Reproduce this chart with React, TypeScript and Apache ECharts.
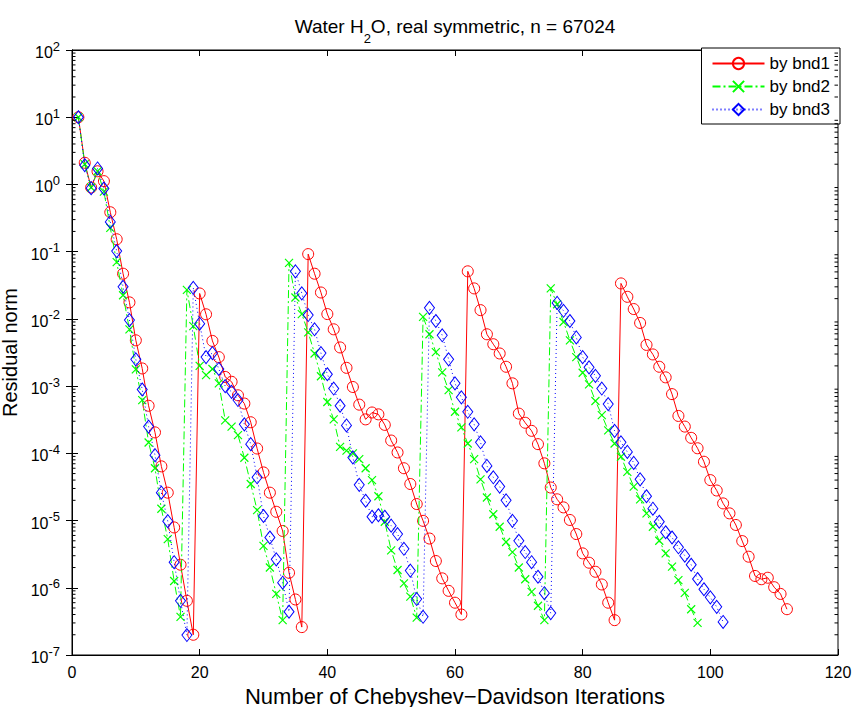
import React, { useEffect, useRef } from "react";
import * as echarts from "echarts";

// Residual norm per Chebyshev-Davidson iteration (x = 1, 2, 3, ...)
const bnd1: number[] = [
  10, 2.1, 0.9, 1.57, 1.12, 0.386, 0.153, 0.047, 0.0176, 0.0048,
  0.00183, 5.1e-4, 2.05e-4, 6.4e-5, 2.6e-5, 7.9e-6, 2.2e-6, 6.4e-7, 2.0e-7, 0.0239,
  0.0117, 4.7e-3, 2.7e-3, 1.37e-3, 1.16e-3, 7.3e-4, 5.5e-4, 2.9e-4, 1.18e-4, 5.2e-5,
  2.6e-5, 1.35e-5, 7.0e-6, 1.67e-6, 6.7e-7, 2.6e-7, 0.092, 0.047, 0.0247, 0.0118,
  7.0e-3, 3.76e-3, 1.87e-3, 9.7e-4, 5.3e-4, 3.2e-4, 4.05e-4, 3.8e-4, 2.65e-4, 1.55e-4,
  1.03e-4, 6.0e-5, 3.5e-5, 1.76e-5, 9.9e-6, 5.4e-6, 2.5e-6, 1.38e-6, 9.0e-7, 6.0e-7,
  4.0e-7, 0.051, 0.0284, 0.0135, 5.9e-3, 4.2e-3, 3.06e-3, 1.94e-3, 1.1e-3, 3.9e-4,
  2.85e-4, 2.16e-4, 1.37e-4, 7.1e-5, 3.1e-5, 2.07e-5, 1.57e-5, 1.02e-5, 6.3e-6, 3.25e-6,
  2.36e-6, 1.73e-6, 1.12e-6, 6.0e-7, 3.3e-7, 0.0337, 0.0213, 0.014, 8.7e-3, 4.1e-3,
  2.96e-3, 1.94e-3, 1.35e-3, 7.6e-4, 3.6e-4, 2.5e-4, 1.7e-4, 1.19e-4, 7.5e-5, 4.0e-5,
  2.8e-5, 1.8e-5, 1.28e-5, 8.6e-6, 4.95e-6, 2.9e-6, 1.5e-6, 1.34e-6, 1.41e-6, 1.02e-6,
  8.1e-7, 4.8e-7,
];

const bnd2: number[] = [
  10, 2.0, 0.9, 1.57, 0.78, 0.226, 0.07, 0.0225, 0.007, 1.77e-3,
  6.2e-4, 1.45e-4, 6.0e-5, 1.5e-5, 5.3e-6, 1.26e-6, 3.7e-7, 0.027, 7.8e-3, 2.0e-3,
  1.46e-3, 1.8e-3, 1.1e-3, 3.1e-4, 2.5e-4, 1.87e-4, 8.6e-5, 3.5e-5, 1.43e-5, 4.2e-6,
  2.0e-6, 8.1e-7, 3.3e-7, 0.068, 0.0208, 0.0118, 6.3e-3, 3.06e-3, 1.4e-3, 5.8e-4,
  3.2e-4, 1.25e-4, 1.1e-4, 1.0e-4, 8.2e-5, 6.0e-5, 4.0e-5, 2.3e-5, 9.6e-6, 3.6e-6,
  1.84e-6, 1.16e-6, 7.4e-7, 3.6e-7, 0.0107, 5.9e-3, 3.2e-3, 1.6e-3, 8.7e-4, 4.15e-4,
  2.43e-4, 1.4e-4, 8.2e-5, 4.1e-5, 2.2e-5, 1.24e-5, 8.1e-6, 4.8e-6, 3.4e-6, 2.0e-6,
  1.34e-6, 8.7e-7, 5.4e-7, 3.3e-7, 0.0284, 0.0165, 9.0e-3, 4.8e-3, 2.7e-3, 1.58e-3,
  1.06e-3, 6.0e-4, 3.7e-4, 2.2e-4, 1.4e-4, 8.9e-5, 5.3e-5, 3.2e-5, 2.07e-5, 1.28e-5,
  8.1e-6, 5.0e-6, 3.25e-6, 2.06e-6, 1.3e-6, 8.4e-7, 4.8e-7, 3.0e-7,
];

const bnd3: number[] = [
  10, 1.93, 0.88, 1.73, 0.87, 0.277, 0.102, 0.03, 0.0096, 0.0025,
  8.9e-4, 2.5e-4, 9.4e-5, 2.6e-5, 9.8e-6, 2.4e-6, 6.4e-7, 1.98e-7, 0.029, 8.5e-3,
  2.7e-3, 3.1e-3, 1.8e-3, 1.0e-3, 8.2e-4, 6.2e-4, 2.7e-4, 1.37e-4, 4.4e-5, 1.17e-5,
  5.6e-6, 2.65e-6, 1.19e-6, 4.4e-7, 0.051, 0.024, 0.0114, 7.0e-3, 3.1e-3, 1.5e-3,
  9.2e-4, 5.1e-4, 2.6e-4, 8.7e-5, 3.4e-5, 1.97e-5, 1.14e-5, 1.2e-5, 1.14e-5, 8.4e-6,
  6.3e-6, 3.8e-6, 1.8e-6, 6.8e-7, 3.7e-7, 0.0146, 9.3e-3, 5.7e-3, 2.5e-3, 1.1e-3,
  6.8e-4, 4.15e-4, 2.7e-4, 1.46e-4, 6.5e-5, 4.4e-5, 3.2e-5, 2.0e-5, 9.9e-6, 5.0e-6,
  3.4e-6, 2.4e-6, 1.46e-6, 8.3e-7, 4.2e-7, 0.0173, 0.0132, 9.3e-3, 5.3e-3, 2.7e-3,
  1.9e-3, 1.42e-3, 9.2e-4, 5.4e-4, 2.16e-4, 1.46e-4, 1.05e-4, 7.2e-5, 4.1e-5, 2.3e-5,
  1.5e-5, 9.6e-6, 6.7e-6, 5.6e-6, 4.0e-6, 3.0e-6, 2.2e-6, 1.35e-6, 9.5e-7, 7.2e-7,
  5.2e-7, 3.1e-7,
];

const seriesNames = ["by bnd1", "by bnd2", "by bnd3"];
const xTicks = { min: 0, max: 120, step: 20 };
const yRange = { min: 1e-7, max: 1e2 };
const minorMultipliers = [2, 3, 4, 5, 6, 7, 8, 9];
const decadeExponents = [-7, -6, -5, -4, -3, -2, -1, 0, 1];

const xName = "Number of Chebyshev\u2212Davidson Iterations";
const yName = "Residual norm";

const FONT = "'Liberation Sans', Arial, Helvetica, sans-serif";

const toPairs = (vals: number[]) => vals.map((v, i) => [i + 1, v]);

export default function App() {
  const ref = useRef<HTMLDivElement>(null);
  useEffect(() => {
    document.body.style.margin = "0";
    const chart = echarts.init(ref.current!, null, { renderer: "svg" });

    const minorTicks: number[][] = [];
    decadeExponents.forEach((e) =>
      minorMultipliers.forEach((m) => minorTicks.push([xTicks.min, m * Math.pow(10, e)]))
    );

    const tickCommon = {
      axisLine: { show: true, lineStyle: { color: "#000", width: 1 } },
      axisTick: { show: true, inside: true, length: 6, lineStyle: { color: "#000", width: 1 } },
      splitLine: { show: false },
    };

    const option: any = {
      animation: false,
      backgroundColor: "#fff",
      textStyle: { fontFamily: FONT, color: "#000" },
      grid: {
        left: 72,
        right: 17,
        top: 50,
        bottom: 52,
        containLabel: false,
        outerBoundsMode: "none",
        show: true,
        borderColor: "#000",
        borderWidth: 1,
        backgroundColor: "transparent",
      },
      graphic: [
        {
          type: "text",
          silent: true,
          style: {
            text: "{t|Water H}{sub|2}{t|O, real symmetric, n = 67024}",
            x: 455,
            y: 31,
            align: "center",
            verticalAlign: "middle",
            fill: "#000",
            rich: {
              t: { fontSize: 19, fontFamily: FONT, lineHeight: 28, verticalAlign: "top", fill: "#000" },
              sub: { fontSize: 13, fontFamily: FONT, lineHeight: 28, verticalAlign: "bottom", fill: "#000" },
            },
          },
        },
      ],
      legend: {
        data: seriesNames,
        orient: "vertical",
        right: 15,
        top: 48,
        selectedMode: false,
        backgroundColor: "#fff",
        borderColor: "#000",
        borderWidth: 1,
        borderRadius: 0,
        padding: [7, 10, 6, 10],
        itemWidth: 52,
        itemHeight: 14,
        itemGap: 6,
        textStyle: { fontSize: 17, color: "#000", fontFamily: FONT },
      },
      xAxis: [
        {
          type: "value",
          min: xTicks.min,
          max: xTicks.max,
          interval: xTicks.step,
          position: "bottom",
          ...tickCommon,
          axisLabel: { fontSize: 16, color: "#000", margin: 9, fontFamily: FONT },
          name: xName,
          nameLocation: "middle",
          nameGap: 30,
          nameTextStyle: { fontSize: 22, color: "#000", fontFamily: FONT },
        },
        {
          type: "value",
          min: xTicks.min,
          max: xTicks.max,
          interval: xTicks.step,
          position: "top",
          ...tickCommon,
          axisLabel: { show: false },
        },
      ],
      yAxis: [
        {
          type: "log",
          logBase: 10,
          min: yRange.min,
          max: yRange.max,
          position: "left",
          ...tickCommon,
          axisLabel: {
            margin: 12,
            formatter: (v: number) => `{b|10}{s|${Math.round(Math.log10(v))}}`,
            rich: {
              b: { fontSize: 16, fontFamily: FONT, color: "#000", lineHeight: 21, verticalAlign: "bottom" },
              s: { fontSize: 13, fontFamily: FONT, color: "#000", lineHeight: 21, verticalAlign: "top" },
            },
          },
          name: yName,
          nameLocation: "middle",
          nameGap: 40,
          nameTextStyle: { fontSize: 20, color: "#000", fontFamily: FONT },
        },
        {
          type: "log",
          logBase: 10,
          min: yRange.min,
          max: yRange.max,
          position: "right",
          ...tickCommon,
          axisLabel: { show: false },
        },
      ],
      series: [
        {
          type: "custom",
          silent: true,
          xAxisIndex: 0,
          yAxisIndex: 0,
          z: 10,
          data: minorTicks,
          encode: { x: 0, y: 1 },
          renderItem: (params: any, api: any) => {
            const v = api.value(1);
            const p = api.coord([xTicks.min, v]);
            const q = api.coord([xTicks.max, v]);
            return {
              type: "group",
              children: [
                { type: "line", shape: { x1: p[0], y1: p[1], x2: p[0] + 3.5, y2: p[1] }, style: { stroke: "#000", lineWidth: 1 } },
                { type: "line", shape: { x1: q[0] - 3.5, y1: q[1], x2: q[0], y2: q[1] }, style: { stroke: "#000", lineWidth: 1 } },
              ],
            };
          },
        },
        {
          name: seriesNames[0],
          type: "line",
          data: toPairs(bnd1),
          symbol: "circle",
          symbolSize: 11,
          lineStyle: { color: "#ff0000", width: 1, type: "solid" },
          itemStyle: { color: "rgba(0,0,0,0)", borderColor: "#ff0000", borderWidth: 1 },
          z: 2,
        },
        {
          name: seriesNames[1],
          type: "line",
          data: toPairs(bnd2),
          symbol: "path://M0,0L10,10M0,10L10,0",
          symbolSize: 8,
          lineStyle: { color: "#00ff00", width: 1, type: [8, 3, 2, 3] },
          itemStyle: { color: "rgba(0,0,0,0)", borderColor: "#00ff00", borderWidth: 1.2 },
          z: 3,
        },
        {
          name: seriesNames[2],
          type: "line",
          data: toPairs(bnd3),
          symbol: "diamond",
          symbolSize: [10, 13],
          lineStyle: { color: "#0000ff", width: 1, type: [1, 3] },
          itemStyle: { color: "rgba(0,0,0,0)", borderColor: "#0000ff", borderWidth: 1 },
          z: 4,
        },
      ],
    };

    chart.setOption(option);
    return () => chart.dispose();
  }, []);

  return (
    <div
      ref={ref}
      style={{ position: "fixed", left: 0, top: 0, width: 855, height: 707 }}
    />
  );
}
